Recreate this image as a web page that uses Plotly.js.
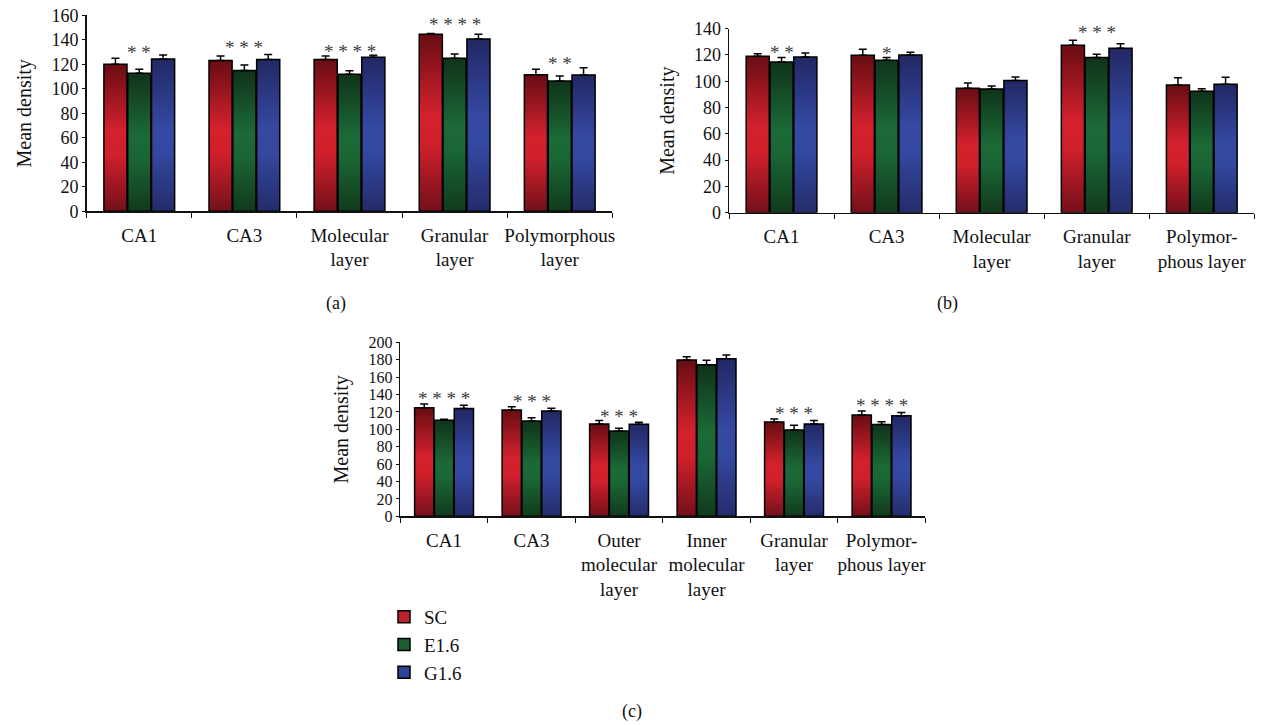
<!DOCTYPE html>
<html>
<head>
<meta charset="utf-8">
<script src="https://cdn.plot.ly/plotly-3.0.1.min.js"></script>
<style>
  html, body { margin: 0; padding: 0; background: #fff; }
  #chart { width: 1263px; height: 725px; }
</style>
</head>
<body>
<div id="chart"></div>
<script>
// ---------- DATA ----------
const seriesNames = ['SC', 'E1.6', 'G1.6'];

// Panel (a)
const catsA = ['CA1', 'CA3', 'Molecular<br>layer', 'Granular<br>layer', 'Polymorphous<br>layer'];
const scA  = [120, 123, 124, 144.5, 111.5];
const scAErr = [5, 3.8, 2.8, 0.7, 4.4];
const e16A = [112.6, 115, 111.8, 125, 106.4];
const e16AErr = [3.4, 4.4, 3, 3.5, 4];
const g16A = [124.3, 124, 125.7, 140.7, 111.3];
const g16AErr = [3.3, 4, 1.6, 3.8, 5.9];
const starsA = ['**', '***', '****', '****', '**'];
const starLevelA = [131, 135.7, 131.7, 154, 122];

// Panel (b)
const catsB = ['CA1', 'CA3', 'Molecular<br>layer', 'Granular<br>layer', 'Polymor-<br>phous layer'];
const scB  = [119, 119.8, 94.7, 127.4, 97.2];
const scBErr = [2, 4.5, 4, 3.8, 5.5];
const e16B = [114.7, 116, 94.1, 118, 92.4];
const e16BErr = [3.3, 2, 2.3, 2.5, 2];
const g16B = [118.5, 120, 100.5, 125.1, 97.7];
const g16BErr = [3, 2, 2.8, 3.5, 5.3];
const starsB = ['**', '*', '', '***', ''];
const starLevelB = [123.3, 123, null, 138.3, null];

// Panel (c)
const catsC = ['CA1', 'CA3', 'Outer<br>molecular<br>layer', 'Inner<br>molecular<br>layer', 'Granular<br>layer', 'Polymor-<br>phous layer'];
const scC  = [124.9, 122.2, 106.1, 179.7, 108.4, 116.5];
const scCErr = [4.2, 3.8, 3.9, 3.8, 3.5, 4.6];
const e16C = [110.3, 109.6, 98.1, 174.3, 99.2, 105.4];
const e16CErr = [1.2, 3.8, 3, 5, 5.4, 3.4];
const g16C = [123.8, 121, 105.7, 181.2, 106.1, 115.7];
const g16CErr = [3.8, 3.1, 2.3, 4.2, 3.9, 3.5];
const starsC = ['****', '***', '***', '', '***', '****'];
const starLevelC = [137.5, 133.7, 116.5, null, 121, 130];

const panelLabels = ['(a)', '(b)', '(c)'];
const yTitle = 'Mean density';

// ---------- STYLE ----------
const FONT = 'Liberation Serif, Times New Roman, serif';
const solid = ['#c0222b', '#1c5e33', '#2e4398'];
const grads = [
  ['#680d13', '#d3212d', '#cf202b', '#74101a'],
  ['#0f331a', '#1c6a37', '#1a6534', '#113a1d'],
  ['#212863', '#3549a3', '#3348a0', '#242c6a']
];

function barTrace(name, idx, cats, vals, errs, xa, ya, showLegend) {
  return {
    type: 'bar', name: name, x: cats, y: vals,
    xaxis: xa, yaxis: ya,
    legendgroup: name, showlegend: showLegend,
    marker: { color: solid[idx], line: { color: '#000', width: 1.5 } },
    error_y: { type: 'data', symmetric: false, array: errs,
               arrayminus: errs.map(() => 0), color: '#000', thickness: 1.5, width: 4 },
    hoverinfo: 'x+y+name'
  };
}

const data = [
  barTrace(seriesNames[0], 0, catsA, scA, scAErr, 'x', 'y', false),
  barTrace(seriesNames[1], 1, catsA, e16A, e16AErr, 'x', 'y', false),
  barTrace(seriesNames[2], 2, catsA, g16A, g16AErr, 'x', 'y', false),
  barTrace(seriesNames[0], 0, catsB, scB, scBErr, 'x2', 'y2', false),
  barTrace(seriesNames[1], 1, catsB, e16B, e16BErr, 'x2', 'y2', false),
  barTrace(seriesNames[2], 2, catsB, g16B, g16BErr, 'x2', 'y2', false),
  barTrace(seriesNames[0], 0, catsC, scC, scCErr, 'x3', 'y3', true),
  barTrace(seriesNames[1], 1, catsC, e16C, e16CErr, 'x3', 'y3', true),
  barTrace(seriesNames[2], 2, catsC, g16C, g16CErr, 'x3', 'y3', true)
];

function xAxis(domain, anchor) {
  return {
    domain: domain, anchor: anchor, type: 'category',
    showline: true, linecolor: '#111', linewidth: 1.5,
    ticks: 'outside', tickson: 'boundaries', ticklen: 5, tickcolor: '#111', tickwidth: 1,
    showgrid: false, zeroline: false, fixedrange: true,
    tickangle: 0,
    tickfont: { family: FONT, size: 19, color: '#111' },
    ticklabelstandoff: 6
  };
}
function yAxis(domain, anchor, maxV, tickSize) {
  return {
    domain: domain, anchor: anchor, range: [0, maxV], dtick: 20,
    showline: true, linecolor: '#111', linewidth: 1.5,
    ticks: 'outside', ticklen: 3, tickcolor: '#111',
    showgrid: false, zeroline: false, fixedrange: true,
    tickfont: { family: FONT, size: tickSize, color: '#111' },
    title: { text: yTitle, font: { family: FONT, size: 20, color: '#111' }, standoff: 14 }
  };
}

const W = 1263, H = 725;
const px = v => v / W, py = v => 1 - v / H;

const annotations = [];
function addStars(stars, levels, cats, xref, yref) {
  stars.forEach((s, i) => {
    if (!s) return;
    annotations.push({
      xref: xref, yref: yref, x: cats[i], y: levels[i],
      text: s.split('').join(' '), showarrow: false,
      font: { family: FONT, size: 19, color: '#3a3a3a' },
      xanchor: 'center', yanchor: 'middle', yshift: -2
    });
  });
}
addStars(starsA, starLevelA, catsA, 'x', 'y');
addStars(starsB, starLevelB, catsB, 'x2', 'y2');
addStars(starsC, starLevelC, catsC, 'x3', 'y3');

[[336, 303], [947, 303], [632, 711]].forEach((p, i) => {
  annotations.push({
    xref: 'paper', yref: 'paper', x: px(p[0]), y: py(p[1]),
    text: panelLabels[i], showarrow: false,
    font: { family: FONT, size: 18, color: '#111' },
    xanchor: 'center', yanchor: 'middle'
  });
});

const layout = {
  width: W, height: H,
  margin: { l: 0, r: 0, t: 0, b: 0 },
  paper_bgcolor: '#fff', plot_bgcolor: 'rgba(0,0,0,0)',
  barmode: 'group', bargap: 0.32, bargroupgap: 0.03,
  showlegend: true,
  legend: {
    x: px(384), y: py(598), xanchor: 'left', yanchor: 'top',
    font: { family: FONT, size: 19, color: '#111' },
    bgcolor: 'rgba(0,0,0,0)', traceorder: 'normal'
  },
  xaxis:  xAxis([px(86.7), px(612.3)], 'y'),
  yaxis:  yAxis([py(211.3), py(15.3)], 'x', 160, 18),
  xaxis2: xAxis([px(729), px(1254.3)], 'y2'),
  yaxis2: yAxis([py(212.7), py(28.7)], 'x2', 140, 18),
  xaxis3: xAxis([px(400.3), px(925.3)], 'y3'),
  yaxis3: yAxis([py(516.3), py(342.3)], 'x3', 200, 16),
  annotations: annotations
};

Plotly.newPlot('chart', data, layout, { displayModeBar: false, staticPlot: true }).then(gd => {
  // add vertical gradient shading to bars
  const svg = gd.querySelector('.main-svg');
  let defs = svg.querySelector('defs');
  const NS = 'http://www.w3.org/2000/svg';
  grads.forEach((g, i) => {
    const lg = document.createElementNS(NS, 'linearGradient');
    lg.setAttribute('id', 'barGrad' + i);
    lg.setAttribute('x1', '0'); lg.setAttribute('y1', '0');
    lg.setAttribute('x2', '0'); lg.setAttribute('y2', '1');
    [[0, g[0]], [0.45, g[1]], [0.62, g[2]], [1, g[3]]].forEach(s => {
      const st = document.createElementNS(NS, 'stop');
      st.setAttribute('offset', s[0]);
      st.setAttribute('stop-color', s[1]);
      lg.appendChild(st);
    });
    defs.appendChild(lg);
  });
  gd.querySelectorAll('.barlayer .trace.bars').forEach(tg => {
    const d = tg.__data__;
    if (!d || !d[0] || !d[0].trace) return;
    const idx = seriesNames.indexOf(d[0].trace.name);
    tg.querySelectorAll('.point path').forEach(p => {
      p.style.fill = 'url(#barGrad' + idx + ')';
    });
  });
});
</script>
</body>
</html>
